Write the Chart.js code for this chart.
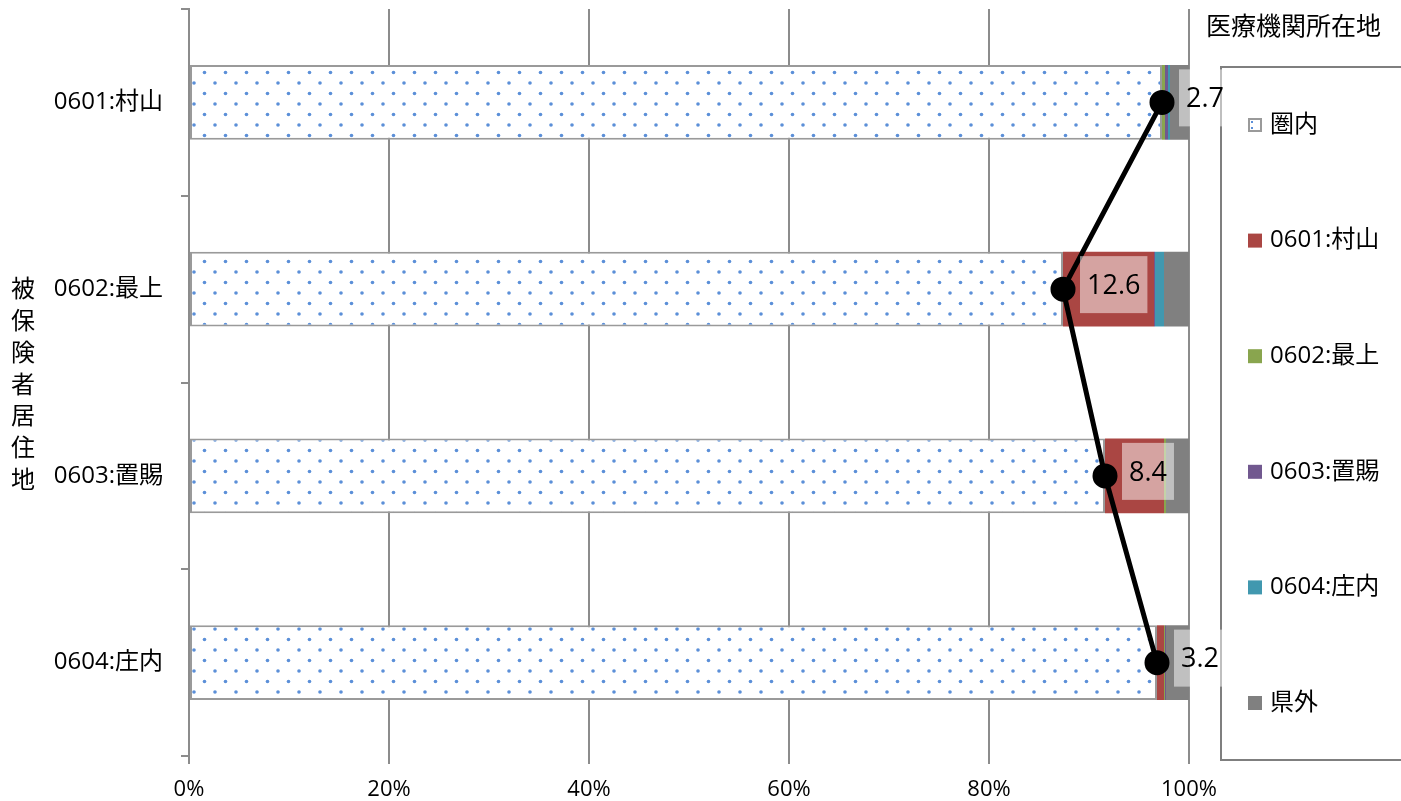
<!DOCTYPE html>
<html>
<head>
<meta charset="utf-8">
<script src="https://cdn.jsdelivr.net/npm/chart.js@4"></script>
<style>
  html, body { margin: 0; padding: 0; background: #fff; overflow: hidden; }
  #wrap { width: 1401px; height: 801px; overflow: hidden; }
  #c { display: block; margin-top: -6px; }
</style>
</head>
<body>
<div id="wrap"><canvas id="c" width="1401" height="807"></canvas></div>
<script>
const regions = ["0601:村山", "0602:最上", "0603:置賜", "0604:庄内"];
const seriesNames = ["圏内", "0601:村山", "0602:最上", "0603:置賜", "0604:庄内", "県外"];
const kennai = [97.3, 87.4, 91.6, 96.8];
const murayama = [0, 9.1, 5.9, 0.7];
const mogami = [0.3, 0, 0.2, 0.1];
const okitama = [0.3, 0.1, 0, 0.1];
const shonai = [0.2, 0.9, 0, 0];
const kengai = [1.9, 2.5, 2.3, 2.3];
const outflow = [2.7, 12.6, 8.4, 3.2];
const xTicks = [0, 20, 40, 60, 80, 100];

const colors = {
  red: "#aa4643",
  green: "#89a54e",
  purple: "#71588f",
  teal: "#4198af",
  grey: "#808080",
  grid: "#8c8c8c",
};
const FONT = '"Open Sans", "Noto Sans CJK JP", sans-serif';
// canvas is shifted up by this much, so fixed drawings move down by it
const OY = 6;

// dotted fill for the 圏内 segment
function makePattern(ctx) {
  const p = document.createElement("canvas");
  p.width = 21;
  p.height = 21;
  const pc = p.getContext("2d");
  pc.fillStyle = "#fff";
  pc.fillRect(0, 0, 21, 21);
  pc.fillStyle = "#5b8fd8";
  [[5, 5], [15.5, 15.5]].forEach(([x, y]) => {
    pc.beginPath();
    pc.arc(x, y, 1.8, 0, Math.PI * 2);
    pc.fill();
  });
  return ctx.createPattern(p, "repeat");
}

const ctx = document.getElementById("c").getContext("2d");
const dots = makePattern(ctx);

const barData = [kennai, murayama, mogami, okitama, shonai, kengai];
const barColors = [dots, colors.red, colors.green, colors.purple, colors.teal, colors.grey];

const datasets = barData.map((d, i) => ({
  type: "bar",
  label: seriesNames[i],
  data: d,
  backgroundColor: barColors[i],
  borderColor: i === 0 ? "#9a9a9a" : "rgba(0,0,0,0)",
  borderWidth: i === 0 ? 2 : 0,
  borderSkipped: false,
  barPercentage: 0.4,
  categoryPercentage: 1,
  order: 1,
}));
datasets.push({
  type: "line",
  label: "line",
  indexAxis: "y",
  data: kennai,
  borderColor: "#000",
  borderWidth: 5,
  pointRadius: 10,
  pointBackgroundColor: "#000",
  pointBorderColor: "#000",
  tension: 0,
  stack: "line",
  order: 0,
  clip: false,
});

const extras = {
  id: "extras",
  beforeDatasetsDraw(chart) {
    const c = chart.ctx;
    c.save();
    // legend frame + title
    c.strokeStyle = "#7f7f7f";
    c.lineWidth = 2;
    c.strokeRect(1221, 67 + OY, 200, 693);
    c.fillStyle = "#000";
    c.font = "25px " + FONT;
    c.textBaseline = "middle";
    c.textAlign = "left";
    c.fillText("医療機関所在地", 1206, 28 + OY);
    c.font = "24px " + FONT;
    seriesNames.forEach((name, i) => {
      const y = 125 + OY + i * 115.6;
      if (i === 0) {
        c.fillStyle = "#fff";
        c.fillRect(1248, y - 7, 14, 14);
        c.strokeStyle = "#9a9a9a";
        c.lineWidth = 2;
        c.strokeRect(1249, y - 6, 12, 12);
        c.fillStyle = "#5b8fd8";
        c.fillRect(1251, y - 4, 2, 2);
        c.fillRect(1251, y + 2, 2, 2);
      } else {
        c.fillStyle = barColors[i];
        c.fillRect(1248, y - 7, 14, 14);
      }
      c.fillStyle = "#000";
      c.fillText(name, 1270, y);
    });
    // category labels on the y axis
    const ys = chart.scales.y;
    c.textAlign = "right";
    regions.forEach((r, i) => {
      c.fillText(r, 163, ys.getPixelForValue(i));
    });
    // y axis title, stacked upright
    c.textAlign = "center";
    "被保険者居住地".split("").forEach((ch, i) => {
      c.fillText(ch, 23, 290 + OY + i * 31.9);
    });
    c.restore();
  },
  afterDatasetsDraw(chart) {
    const meta = chart.getDatasetMeta(chart.data.datasets.length - 1);
    const c = chart.ctx;
    c.save();
    c.font = "27px " + FONT;
    c.textBaseline = "middle";
    c.textAlign = "center";
    meta.data.forEach((pt, i) => {
      const txt = outflow[i].toFixed(1);
      const w = c.measureText(txt).width + 14;
      const x0 = pt.x + 17;
      c.fillStyle = "rgba(255,255,255,0.5)";
      c.fillRect(x0, pt.y - 33, w, 57);
      c.fillStyle = "#000";
      c.fillText(txt, x0 + w / 2, pt.y - 3);
    });
    c.restore();
  },
};

new Chart(ctx, {
  data: { labels: regions, datasets: datasets },
  options: {
    indexAxis: "y",
    responsive: false,
    animation: false,
    layout: {
      padding: { top: 8, right: 212, left: 0, bottom: 0 },
    },
    plugins: {
      legend: { display: false },
      tooltip: { enabled: false },
    },
    scales: {
      x: {
        stacked: true,
        min: 0,
        max: 100,
        afterBuildTicks(scale) {
          scale.ticks = xTicks.map((v) => ({ value: v }));
        },
        afterFit(scale) {
          scale.height = 45;
        },
        ticks: {
          callback: (v) => v + "%",
          color: "#000",
          font: { family: FONT, size: 22 },
          padding: 13,
          maxRotation: 0,
        },
        grid: { color: colors.grid, lineWidth: 2, tickLength: 8 },
        border: { display: false },
      },
      y: {
        stacked: true,
        afterFit(scale) {
          scale.width = 189;
        },
        ticks: { display: false },
        grid: {
          color: colors.grid,
          lineWidth: 2,
          drawOnChartArea: false,
          drawTicks: true,
          tickLength: 8,
          offset: true,
        },
        border: { display: true, color: colors.grid, width: 2 },
      },
    },
  },
  plugins: [extras],
});
</script>
</body>
</html>
